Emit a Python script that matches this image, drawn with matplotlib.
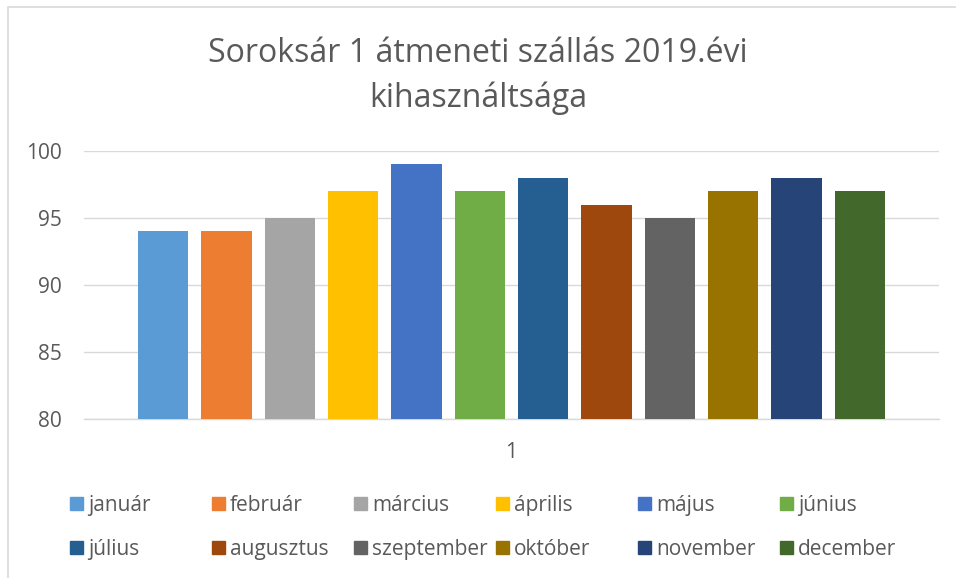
import matplotlib
matplotlib.use("Agg")
import matplotlib.pyplot as plt
from matplotlib.patches import Rectangle

# monthly occupancy (%) of Soroksár 1, 2019
months = ["január", "február", "március", "április", "május", "június",
          "július", "augusztus", "szeptember", "október", "november", "december"]
occupancy = [94, 94, 95, 97, 99, 97, 98, 96, 95, 97, 98, 97]
colors = ["#5B9BD5", "#ED7D31", "#A5A5A5", "#FFC000", "#4472C4", "#70AD47",
          "#255E91", "#9E480E", "#636363", "#997300", "#264478", "#43682B"]
yticks = [80, 85, 90, 95, 100]
category = "1"
title = "Soroksár 1 átmeneti szállás 2019.évi\nkihasználtsága"

W, H = 956, 578
TXT = "#595959"
GRID = "#D9D9D9"

plt.rcParams["font.family"] = ["Open Sans", "DejaVu Sans"]

fig = plt.figure(figsize=(W / 100, H / 100), dpi=100)
ax = fig.add_axes([84 / W, 1 - 418.7 / H, (939 - 84) / W, (418.7 - 151) / H])

xs = list(range(len(months)))
ax.bar(xs, occupancy, width=0.79, color=colors, bottom=0, zorder=3)
ax.set_xlim(-1.25, len(months) - 1 + 1.25)
ax.set_ylim(yticks[0], yticks[-1])
ax.set_yticks(yticks)
ax.set_xticks([(len(months) - 1) / 2])
ax.set_xticklabels([category])
ax.yaxis.grid(True, color=GRID, linewidth=1.0, zorder=0)
for side in ["left", "right", "top"]:
    ax.spines[side].set_visible(False)
ax.spines["bottom"].set_color(GRID)
ax.spines["bottom"].set_linewidth(1.0)
ax.tick_params(axis="both", length=0, colors=TXT, labelsize=15)
ax.tick_params(axis="y", pad=16)
ax.tick_params(axis="x", pad=17)

fig.text(0.5, 1 - 76 / H, title, ha="center", va="center", fontsize=23,
         color=TXT, linespacing=1.45)

# legend: 6 equal-width columns, 2 rows
col_x0, col_w = 70, 142
row_y = [503, 547]
sq = 13
for i, (name, c) in enumerate(zip(months, colors)):
    r, k = divmod(i, 6)
    x = col_x0 + k * col_w
    y = row_y[r]
    fig.patches.append(Rectangle((x / W, 1 - (y + sq / 2) / H), sq / W, sq / H,
                                 transform=fig.transFigure, color=c))
    fig.text((x + sq + 5) / W, 1 - y / H, name, ha="left", va="center_baseline",
             fontsize=15, color=TXT)

# chart border (only top and left edges visible in the crop)
fig.patches.append(Rectangle((8 / W, -0.1), 1.2, 1 - 7 / H + 0.1,
                             transform=fig.transFigure, fill=False,
                             edgecolor=GRID, linewidth=1.2))

fig.savefig("out.png", dpi=100)
